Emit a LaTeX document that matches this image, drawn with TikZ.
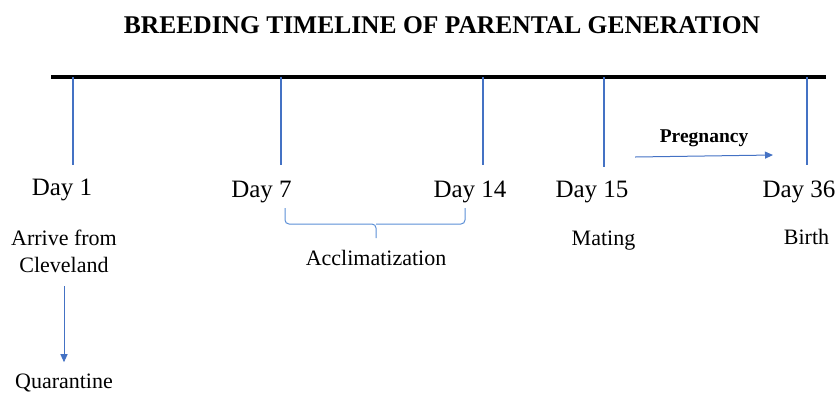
\documentclass[tikz,border=0pt]{standalone}
\usepackage{fontspec}
\setmainfont{Liberation Serif}
\usetikzlibrary{positioning,arrows.meta}
\definecolor{tickblue}{HTML}{4472C4}
\definecolor{bracketblue}{HTML}{5B8FD6}

\begin{document}
\begin{tikzpicture}
  [x=1pt, y=-1pt, inner sep=0pt,
  bar/.style={draw, line width=4pt, draw=black},
  tick/.style={draw, line width=2pt, draw=tickblue},
  line/.style={draw, -{Triangle[length=8pt, width=7pt]}, line width=1pt, draw=tickblue},
  bracket/.style={draw, line width=1pt, draw=bracketblue, rounded corners=4pt},
  day/.style={anchor=base, font=\fontsize{25}{30}\selectfont},
  event/.style={anchor=base, align=center, font=\fontsize{22}{27}\selectfont}]
  \useasboundingbox (0,0) rectangle (837,392);
  % nodes
  \node [anchor=base, font=\bfseries\fontsize{25.5}{30}\selectfont] (title) at (442,33) {BREEDING TIMELINE OF PARENTAL GENERATION};
  \coordinate (barstart) at (51,77);
  \coordinate (barend) at (826,77);
  \coordinate (t1) at (72.7,77);
  \coordinate (t7) at (281,77);
  \coordinate (t14) at (483,77);
  \coordinate (t15) at (604,77);
  \coordinate (t36) at (807,77);
  \node [day] (day1) at (62,195) {Day 1};
  \node [day] (day7) at (261.5,197) {Day 7};
  \node [day] (day14) at (470,197) {Day 14};
  \node [day] (day15) at (592,197) {Day 15};
  \node [day] (day36) at (799,197) {Day 36};
  \node [event, anchor=north] (arrive) at (64,230) {Arrive from\\Cleveland};
  \node [event] (quarantine) at (64,388) {Quarantine};
  \node [event] (acclim) at (376,265) {Acclimatization};
  \node [event] (mating) at (603.5,245) {Mating};
  \node [event] (birth) at (806.5,244) {Birth};
  \coordinate (pregstart) at (635,157);
  \coordinate (pregend) at (773,155);
  \coordinate (brleft) at (285,208);
  \coordinate (brmid) at (376,224);
  \coordinate (brright) at (465,208);

  % edges
  \path [bar] (barstart) -- (barend);
  \path [tick] (t1) -- (t1 |- 0,165);
  \path [tick] (t7) -- (t7 |- 0,165);
  \path [tick] (t14) -- (t14 |- 0,165);
  \path [tick] (t15) -- (t15 |- 0,167);
  \path [tick] (t36) -- (t36 |- 0,165);
  \path [line] (pregstart) -- node [above=9pt, font=\bfseries\fontsize{19.5}{23}\selectfont] {Pregnancy} (pregend);
  \path [line, shorten <=13pt, shorten >=11pt] (arrive.south) -- (quarantine.north);
  \path [bracket] (brleft) |- (brmid) -- ++(0,14);
  \path [bracket] (brmid) -| (brright);

\end{tikzpicture}
\end{document}
